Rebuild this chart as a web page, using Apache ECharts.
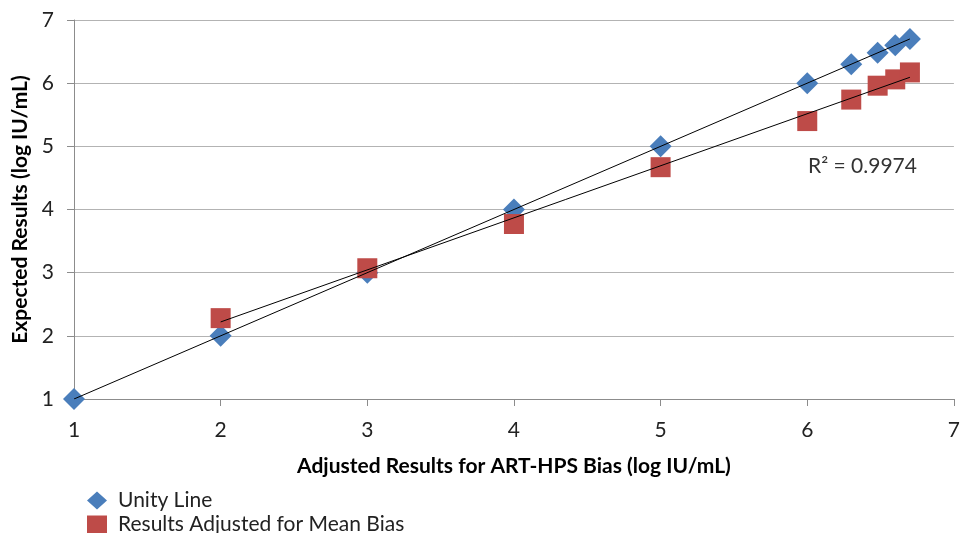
<!DOCTYPE html>
<html><head><meta charset="utf-8">
<script src="https://cdn.jsdelivr.net/npm/echarts@6/dist/echarts.min.js"></script>
<style>html,body{margin:0;padding:0;background:#fff}#c{width:963px;height:533px}</style>
</head><body><div id="c"></div>
<script>
const xValues = [1, 2, 3, 4, 5, 6, 6.3, 6.48, 6.6, 6.7];
const unityValues = [1, 2, 3, 4, 5, 6, 6.3, 6.48, 6.6, 6.7];
const adjX = [2, 3, 4, 5, 6, 6.3, 6.48, 6.6, 6.7];
const adjValues = [2.28, 3.07, 3.77, 4.67, 5.4, 5.74, 5.96, 6.06, 6.17];
const seriesNames = ['Unity Line', 'Results Adjusted for Mean Bias'];
const xTicks = [1, 2, 3, 4, 5, 6, 7];
const yTicks = [1, 2, 3, 4, 5, 6, 7];
const r2Text = 'R² = 0.9974';

function fit(xs, ys) {
  const n = xs.length;
  const mx = xs.reduce((a, b) => a + b, 0) / n;
  const my = ys.reduce((a, b) => a + b, 0) / n;
  let sxy = 0, sxx = 0;
  for (let i = 0; i < n; i++) { sxy += (xs[i] - mx) * (ys[i] - my); sxx += (xs[i] - mx) ** 2; }
  const b = sxy / sxx, a = my - b * mx;
  const x0 = Math.min(...xs), x1 = Math.max(...xs);
  return [[x0, a + b * x0], [x1, a + b * x1]];
}

const font = 'Lato, "Open Sans", sans-serif';
const legendText = {fontFamily: font, fontSize: 21, color: '#222', padding: [0, 0, 0, 6]};
const chart = echarts.init(document.getElementById('c'), null, {renderer: 'canvas'});
chart.setOption({
  animation: false,
  textStyle: {fontFamily: font},
  grid: {left: 74, right: 7, top: 20, bottom: 134},
  xAxis: {
    type: 'value', min: 1, max: 7, interval: 1,
    name: 'Adjusted Results for ART-HPS Bias (log IU/mL)',
    nameLocation: 'middle', nameGap: 57,
    nameTextStyle: {fontFamily: font, fontSize: 21, fontWeight: 'bold', color: '#000'},
    axisLine: {onZero: false, lineStyle: {color: '#8c8c8c', width: 1}},
    axisTick: {show: true, length: 7, lineStyle: {color: '#8c8c8c'}},
    axisLabel: {fontFamily: font, fontSize: 21, color: '#222', margin: 21, formatter: v => xTicks.includes(v) ? String(v) : ''},
    splitLine: {show: false}
  },
  yAxis: {
    type: 'value', min: 1, max: 7, interval: 1,
    name: 'Expected Results (log IU/mL)',
    nameLocation: 'middle', nameGap: 41, nameRotate: 90,
    nameTextStyle: {fontFamily: font, fontSize: 21, fontWeight: 'bold', color: '#000'},
    axisLine: {show: true, onZero: false, lineStyle: {color: '#8c8c8c', width: 1}},
    axisTick: {show: true, length: 7, lineStyle: {color: '#8c8c8c'}},
    axisLabel: {fontFamily: font, fontSize: 21, color: '#222', margin: 20, formatter: v => yTicks.includes(v) ? String(v) : ''},
    splitLine: {show: true, lineStyle: {color: '#b3b3b3', width: 1}}
  },
  legend: [
    {
      left: 82, top: 485, itemWidth: 20, itemHeight: 18, textStyle: legendText,
      data: [{name: seriesNames[0], icon: 'diamond'}]
    },
    {
      left: 82, top: 509, itemWidth: 20, itemHeight: 18, textStyle: legendText,
      data: [{name: seriesNames[1], icon: 'rect'}]
    }
  ],
  series: [
    {
      name: seriesNames[0], type: 'scatter', symbol: 'diamond', symbolSize: [22, 22],
      itemStyle: {color: '#4A7EBB', opacity: 1}, z: 2,
      data: xValues.map((x, i) => [x, unityValues[i]])
    },
    {
      name: seriesNames[1], type: 'scatter', symbol: 'rect', symbolSize: [20, 20],
      itemStyle: {color: '#BE4B48', opacity: 1}, z: 2,
      data: adjX.map((x, i) => [x, adjValues[i]])
    },
    {
      name: 'trend1', type: 'line', data: fit(xValues, unityValues), symbol: 'none',
      lineStyle: {color: '#000', width: 1}, z: 5, silent: true
    },
    {
      name: 'trend2', type: 'line', data: fit(adjX, adjValues), symbol: 'none',
      lineStyle: {color: '#000', width: 1}, z: 5, silent: true
    }
  ],
  graphic: [{
    type: 'text', left: 808, top: 156,
    style: {text: r2Text, fontFamily: font, fontSize: 21, fill: '#333'}
  }]
});
</script></body></html>
